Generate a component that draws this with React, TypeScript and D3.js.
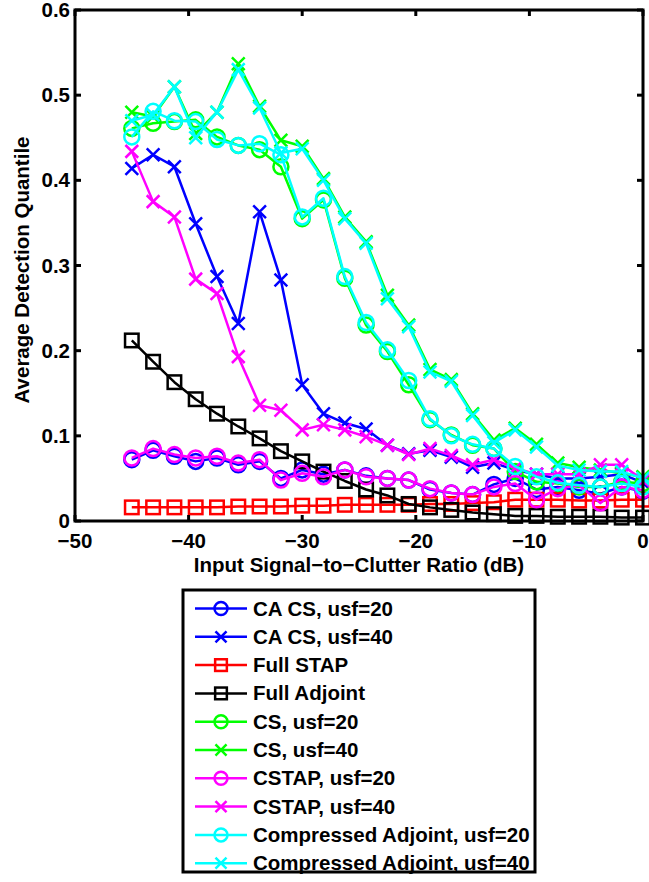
import React from "react";
import * as d3 from "d3";

const snr = [-45, -43.125, -41.25, -39.375, -37.5, -35.625, -33.75, -31.875, -30, -28.125, -26.25, -24.375, -22.5, -20.625, -18.75, -16.875, -15, -13.125, -11.25, -9.375, -7.5, -5.625, -3.75, -1.875, 0];

const caCs20 = [0.072, 0.083, 0.076, 0.070, 0.074, 0.066, 0.070, 0.050, 0.060, 0.055, 0.060, 0.053, 0.050, 0.048, 0.037, 0.033, 0.031, 0.043, 0.050, 0.037, 0.040, 0.036, 0.032, 0.040, 0.035];
const caCs40 = [0.414, 0.430, 0.416, 0.349, 0.287, 0.232, 0.363, 0.283, 0.160, 0.126, 0.115, 0.108, 0.089, 0.079, 0.083, 0.075, 0.063, 0.068, 0.060, 0.055, 0.050, 0.050, 0.052, 0.055, 0.045];
const fullStap = [0.016, 0.016, 0.016, 0.016, 0.016, 0.017, 0.017, 0.017, 0.018, 0.018, 0.019, 0.019, 0.019, 0.019, 0.020, 0.020, 0.021, 0.022, 0.025, 0.025, 0.025, 0.024, 0.024, 0.025, 0.025];
const fullAdjoint = [0.212, 0.187, 0.163, 0.143, 0.126, 0.111, 0.097, 0.082, 0.070, 0.058, 0.047, 0.037, 0.030, 0.020, 0.016, 0.013, 0.010, 0.008, 0.006, 0.006, 0.005, 0.005, 0.005, 0.004, 0.004];
const cs20 = [0.461, 0.467, 0.469, 0.471, 0.451, 0.441, 0.436, 0.416, 0.355, 0.377, 0.285, 0.230, 0.199, 0.160, 0.119, 0.101, 0.089, 0.085, 0.058, 0.046, 0.044, 0.040, 0.040, 0.046, 0.044];
const cs40 = [0.480, 0.475, 0.510, 0.455, 0.480, 0.537, 0.487, 0.447, 0.440, 0.402, 0.357, 0.328, 0.265, 0.230, 0.178, 0.166, 0.126, 0.095, 0.109, 0.090, 0.068, 0.063, 0.060, 0.056, 0.052];
const cstap20 = [0.074, 0.085, 0.078, 0.074, 0.076, 0.068, 0.072, 0.048, 0.056, 0.052, 0.060, 0.052, 0.050, 0.048, 0.038, 0.033, 0.031, 0.040, 0.044, 0.025, 0.038, 0.042, 0.021, 0.040, 0.036];
const cstap40 = [0.434, 0.375, 0.357, 0.284, 0.267, 0.193, 0.136, 0.130, 0.107, 0.113, 0.107, 0.099, 0.089, 0.078, 0.085, 0.077, 0.066, 0.072, 0.062, 0.055, 0.055, 0.055, 0.066, 0.066, 0.048];
const ca20 = [0.451, 0.481, 0.470, 0.469, 0.448, 0.441, 0.443, 0.430, 0.357, 0.379, 0.287, 0.233, 0.201, 0.165, 0.120, 0.100, 0.090, 0.085, 0.064, 0.052, 0.045, 0.042, 0.040, 0.044, 0.040];
const ca40 = [0.470, 0.477, 0.510, 0.450, 0.480, 0.530, 0.485, 0.432, 0.437, 0.400, 0.355, 0.326, 0.261, 0.228, 0.175, 0.164, 0.124, 0.092, 0.107, 0.087, 0.065, 0.060, 0.058, 0.058, 0.050];

const seriesNames = [
  "CA CS, usf=20",
  "CA CS, usf=40",
  "Full STAP",
  "Full Adjoint",
  "CS, usf=20",
  "CS, usf=40",
  "CSTAP, usf=20",
  "CSTAP, usf=40",
  "Compressed Adjoint, usf=20",
  "Compressed Adjoint, usf=40",
];
const seriesValues = [caCs20, caCs40, fullStap, fullAdjoint, cs20, cs40, cstap20, cstap40, ca20, ca40];
const seriesColors = ["#0000ff", "#0000ff", "#ff0000", "#000000", "#00ff00", "#00ff00", "#ff00ff", "#ff00ff", "#00ffff", "#00ffff"];
const seriesMarkers = ["o", "x", "s", "s", "o", "x", "o", "x", "o", "x"];

const xTicks = [-50, -40, -30, -20, -10, 0];
const yTicks = [0, 0.1, 0.2, 0.3, 0.4, 0.5, 0.6];
const xLabel = "Input Signal\u2212to\u2212Clutter Ratio (dB)";
const yLabel = "Average Detection Quantile";

const W = 649;
const H = 882;
const plot = { left: 75, right: 643, top: 10, bottom: 521 };
const FONT = "'Liberation Sans', Arial, Helvetica, sans-serif";
const FS = 20.5;

function Marker({ type, x, y, color, size }: { type: string; x: number; y: number; color: string; size: number }) {
  const sw = 2.5;
  if (type === "o") {
    return <circle cx={x} cy={y} r={size} fill="none" stroke={color} strokeWidth={sw} />;
  }
  if (type === "s") {
    const h = size * 0.9;
    return <rect x={x - h} y={y - h} width={2 * h} height={2 * h} fill="none" stroke={color} strokeWidth={sw} />;
  }
  const h = size * 0.85;
  return (
    <path d={`M${x - h},${y - h}L${x + h},${y + h}M${x - h},${y + h}L${x + h},${y - h}`} stroke={color} strokeWidth={sw} fill="none" />
  );
}

export default function App() {
  const x = d3.scaleLinear().domain([-50, 0]).range([plot.left, plot.right]);
  const y = d3.scaleLinear().domain([0, 0.6]).range([plot.bottom, plot.top]);
  const line = d3
    .line<number>()
    .x((_, i) => x(snr[i]))
    .y((v) => y(v));

  const legend = { left: 183, top: 590, right: 535, bottom: 872, row0: 608.5, step: 28.3 };

  return (
    <svg width={W} height={H} style={{ position: "absolute", left: 0, top: 0, background: "#fff" }} fontFamily={FONT}>
      <rect x={0} y={0} width={W} height={H} fill="#fff" />
      {seriesValues.map((vals, si) => (
        <g key={si}>
          <path d={line(vals) || ""} fill="none" stroke={seriesColors[si]} strokeWidth={2.5} strokeLinejoin="round" />
          {vals.map((v, i) => (
            <Marker key={i} type={seriesMarkers[si]} x={x(snr[i])} y={y(v)} color={seriesColors[si]} size={7.5} />
          ))}
        </g>
      ))}
      <rect x={plot.left} y={plot.top} width={plot.right - plot.left} height={plot.bottom - plot.top} fill="none" stroke="#000" strokeWidth={3} />
      {xTicks.map((t) => (
        <g key={"xt" + t}>
          <line x1={x(t)} x2={x(t)} y1={plot.bottom} y2={plot.bottom - 6} stroke="#000" strokeWidth={3} />
          <line x1={x(t)} x2={x(t)} y1={plot.top} y2={plot.top + 6} stroke="#000" strokeWidth={3} />
          <text x={x(t)} y={548} textAnchor="middle" fontSize={FS} fontWeight="bold">
            {t < 0 ? "\u2212" + Math.abs(t) : String(t)}
          </text>
        </g>
      ))}
      {yTicks.map((t) => (
        <g key={"yt" + t}>
          <line x1={plot.left} x2={plot.left + 6} y1={y(t)} y2={y(t)} stroke="#000" strokeWidth={3} />
          <line x1={plot.right} x2={plot.right - 6} y1={y(t)} y2={y(t)} stroke="#000" strokeWidth={3} />
          <text x={70} y={y(t) + 7} textAnchor="end" fontSize={FS} fontWeight="bold">
            {t === 0 ? "0" : d3.format(".1f")(t)}
          </text>
        </g>
      ))}
      <text x={(plot.left + plot.right) / 2} y={572} textAnchor="middle" fontSize={FS} fontWeight="bold">
        {xLabel}
      </text>
      <text transform={`translate(29,270) rotate(-90)`} textAnchor="middle" fontSize={FS} fontWeight="bold">
        {yLabel}
      </text>
      <rect x={legend.left} y={legend.top} width={legend.right - legend.left} height={legend.bottom - legend.top} fill="#fff" stroke="#000" strokeWidth={3} />
      {seriesNames.map((name, si) => {
        const cy = legend.row0 + si * legend.step;
        return (
          <g key={"lg" + si}>
            <line x1={195} x2={247} y1={cy} y2={cy} stroke={seriesColors[si]} strokeWidth={2.5} />
            <Marker type={seriesMarkers[si]} x={221} y={cy} color={seriesColors[si]} size={6.5} />
            <text x={253} y={cy + 7} fontSize={FS} fontWeight="bold">
              {name}
            </text>
          </g>
        );
      })}
    </svg>
  );
}
